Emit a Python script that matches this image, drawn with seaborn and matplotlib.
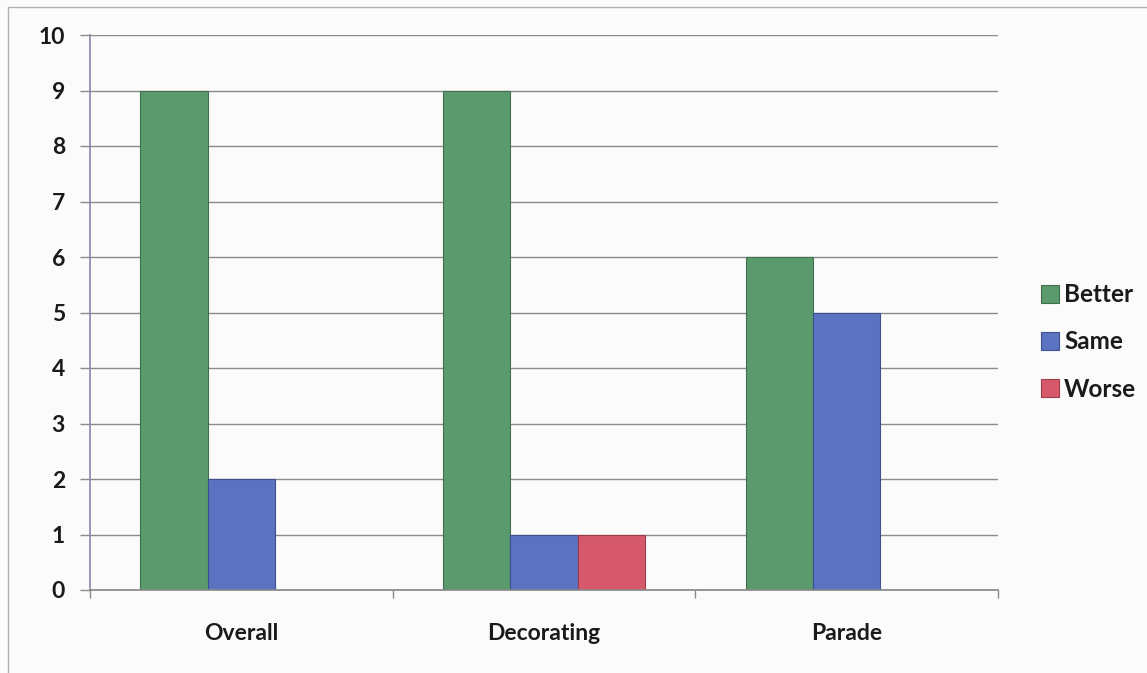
import matplotlib
matplotlib.use("Agg")
import matplotlib.pyplot as plt
from matplotlib.lines import Line2D
from matplotlib.ticker import FixedLocator, MultipleLocator
import seaborn as sns
import pandas as pd

categories = ["Overall", "Decorating", "Parade"]
series = ["Better", "Same", "Worse"]
better = [9, 9, 6]
same = [2, 1, 5]
worse = [0, 1, 0]
colors = ["#5b9a6c", "#5a72c0", "#d5596a"]
edges = ["#3f6f4e", "#3d5090", "#a03d4b"]

rows = []
for name, vals in zip(series, [better, same, worse]):
    for cat, v in zip(categories, vals):
        rows.append({"Category": cat, "Series": name, "Value": v})
df = pd.DataFrame(rows)

sns.set_theme(style="white")
plt.rcParams["font.family"] = ["Lato", "DejaVu Sans"]
plt.rcParams["font.weight"] = "bold"

fig = plt.figure(figsize=(11.47, 6.73), dpi=100, facecolor="#fbfbfc")
ax = fig.add_axes([90 / 1147, 83 / 673, 908 / 1147, 555 / 673])
ax.set_facecolor("#fbfbfc")

sns.barplot(data=df, x="Category", y="Value", hue="Series", palette=colors,
            width=3 / 4.5, ax=ax, legend=False, saturation=1)

# Darker outline per series
n = len(categories)
for i, bar in enumerate(ax.patches[: n * len(series)]):
    bar.set_edgecolor(edges[i // n])
    bar.set_linewidth(0.8)

ax.set_xlim(-0.5, n - 0.5)
ax.set_ylim(0, 10)
ax.yaxis.set_major_locator(MultipleLocator(1))
ax.grid(axis="y", color="#8a8a8a", linewidth=1.0)
ax.set_axisbelow(True)
ax.set_xlabel("")
ax.set_ylabel("")

for side in ["top", "right"]:
    ax.spines[side].set_visible(False)
ax.spines["left"].set_color("#8c8cae")
ax.spines["bottom"].set_color("#8a8a8a")

ax.tick_params(axis="y", which="major", left=True, length=7, width=1,
               color="#8a8a8a", labelsize=16.5, pad=11, labelcolor="#1a1a1a")
ax.tick_params(axis="x", which="major", bottom=False, length=0,
               labelsize=16.5, pad=24, labelcolor="#1a1a1a")
ax.xaxis.set_minor_locator(FixedLocator([-0.5, 0.5, 1.5, 2.5]))
ax.tick_params(axis="x", which="minor", bottom=True, length=6, width=1,
               color="#8a8a8a")
for lab in ax.get_xticklabels() + ax.get_yticklabels():
    lab.set_fontweight("bold")

handles = [plt.Rectangle((0, 0), 1, 1, facecolor=c, edgecolor=e, linewidth=0.8)
           for c, e in zip(colors, edges)]
leg = fig.legend(handles, series, loc="center left",
                 bbox_to_anchor=(1041 / 1147, 1 - 342 / 673), frameon=False,
                 fontsize=17.5, labelspacing=1.0, handlelength=0.75,
                 handleheight=0.75, handletextpad=0.2, borderpad=0,
                 borderaxespad=0)
for t in leg.get_texts():
    t.set_fontweight("bold")
    t.set_color("#1a1a1a")

# Chart border
fig.add_artist(Line2D([8 / 1147, 8 / 1147], [0, 1 - 7 / 673],
                      transform=fig.transFigure, color="#b0b0b0", linewidth=1))
fig.add_artist(Line2D([8 / 1147, 1], [1 - 7 / 673, 1 - 7 / 673],
                      transform=fig.transFigure, color="#b0b0b0", linewidth=1))

fig.savefig("out.png", dpi=100, facecolor=fig.get_facecolor())
